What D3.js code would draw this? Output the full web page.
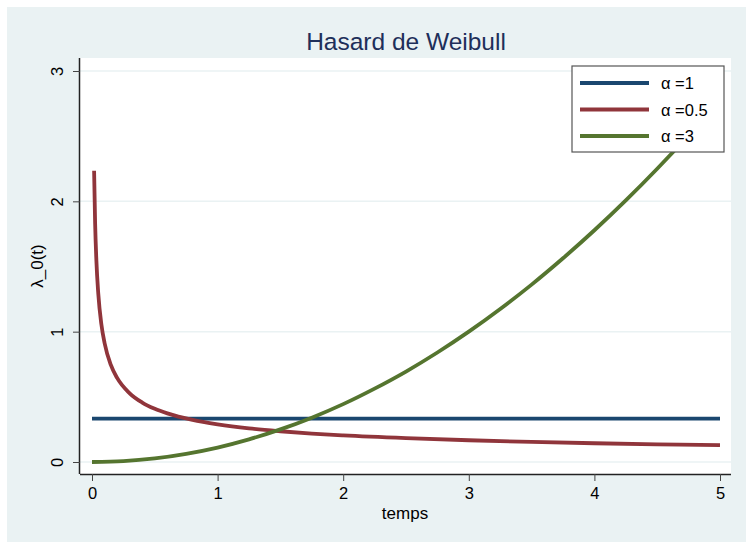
<!DOCTYPE html>
<html><head><meta charset="utf-8">
<script src="https://cdn.jsdelivr.net/npm/d3@7"></script>
<style>body{margin:0;background:#fff}svg{display:block}text{font-family:"Liberation Sans",Arial,sans-serif}</style>
</head><body><svg id="c" width="746" height="542"></svg>
<script>
const xTicks = [0, 1, 2, 3, 4, 5];
const yTicks = [0, 1, 2, 3];
const seriesNames = ["α =1", "α =0.5", "α =3"];
const seriesColors = ["#1a476f", "#90353b", "#55752f"];
const tA1 = [0, 5];
const yA1 = [0.333, 0.333];
const tA05 = [0.0167,0.025,0.035,0.05,0.075,0.1,0.15,0.2,0.3,0.4,0.5,0.6,0.8,1,1.25,1.5,1.75,2,2.5,3,3.5,4,4.5,5];
const yA05 = [2.234,1.826,1.543,1.291,1.054,0.913,0.745,0.645,0.527,0.456,0.408,0.373,0.323,0.289,0.258,0.236,0.218,0.204,0.183,0.167,0.154,0.144,0.136,0.129];
const tA3 = [0,0.25,0.5,0.75,1,1.25,1.5,1.75,2,2.25,2.5,2.75,3,3.25,3.5,3.75,4,4.25,4.5,4.75,5];
const yA3 = [0,0.007,0.028,0.063,0.111,0.174,0.25,0.34,0.444,0.563,0.694,0.84,1.0,1.174,1.361,1.563,1.778,2.007,2.25,2.507,2.778];

const svg = d3.select("#c");
svg.append("rect").attr("x",7).attr("y",7).attr("width",739).attr("height",535).attr("fill","#eaf2f3");
const L=80,R=731,T=58,B=474;
svg.append("rect").attr("x",L).attr("y",T).attr("width",R-L).attr("height",B-T).attr("fill","#fff");
const x = d3.scaleLinear().domain([0,5]).range([92,720]);
const y = d3.scaleLinear().domain([0,3]).range([462,71]);

// grid
svg.append("g").selectAll("line").data(yTicks).join("line")
  .attr("x1",L).attr("x2",R).attr("y1",d=>y(d)).attr("y2",d=>y(d))
  .attr("stroke","#eaf2f3").attr("stroke-width",1.5);

// lines
const line = d3.line().x(d=>x(d[0])).y(d=>y(d[1])).curve(d3.curveMonotoneX);
const series = [d3.zip(tA1,yA1), d3.zip(tA05,yA05), d3.zip(tA3,yA3)];
series.forEach((s,i)=>{
  svg.append("path").attr("d",line(s)).attr("fill","none")
    .attr("stroke",seriesColors[i]).attr("stroke-width",3.8);
});

// axes
const ax = svg.append("g").attr("transform",`translate(0,${B})`)
  .call(d3.axisBottom(x).tickValues(xTicks).tickSize(7).tickPadding(6).tickFormat(d3.format("d")));
ax.select(".domain").attr("d",`M${L},0.5H${R}`).attr("stroke","#222").attr("stroke-width",1.5);
ax.selectAll(".tick line").attr("stroke","#444");
ax.selectAll(".tick text").attr("font-size",16.5).attr("fill","#000").attr("font-family","Liberation Sans, Arial, sans-serif");

const ay = svg.append("g").attr("transform",`translate(${L},0)`)
  .call(d3.axisLeft(y).tickValues(yTicks).tickSize(7).tickFormat(d3.format("d")));
ay.select(".domain").attr("d",`M-0.5,${T}V${B}`).attr("stroke","#222").attr("stroke-width",1.5);
ay.selectAll(".tick line").attr("stroke","#444");
ay.selectAll(".tick text").attr("font-size",16.5).attr("fill","#000")
  .attr("font-family","Liberation Sans, Arial, sans-serif")
  .attr("text-anchor","middle").attr("dy",null).attr("x",null)
  .attr("transform","translate(-17,0) rotate(-90)").attr("dy","0");

// titles
svg.append("text").attr("x",406).attr("y",50).attr("text-anchor","middle")
  .attr("font-size",24.5).attr("fill","#1e2f5a").text("Hasard de Weibull");
svg.append("text").attr("x",405).attr("y",519).attr("text-anchor","middle")
  .attr("font-size",17).attr("fill","#000").text("temps");
svg.append("text").attr("transform","translate(43,266) rotate(-90)").attr("text-anchor","middle")
  .attr("font-size",17).attr("fill","#000").text("λ_0(t)");

// legend
const lg = svg.append("g");
lg.append("rect").attr("x",572).attr("y",66).attr("width",152).attr("height",86)
  .attr("fill","#fff").attr("stroke","#555").attr("stroke-width",1.2);
seriesNames.forEach((n,i)=>{
  const yy = 83 + i*26.5;
  lg.append("line").attr("x1",580).attr("x2",649).attr("y1",yy).attr("y2",yy)
    .attr("stroke",seriesColors[i]).attr("stroke-width",3.8);
  lg.append("text").attr("x",661).attr("y",yy+6).attr("font-size",16.5).attr("fill","#000").text(n);
});
</script></body></html>
